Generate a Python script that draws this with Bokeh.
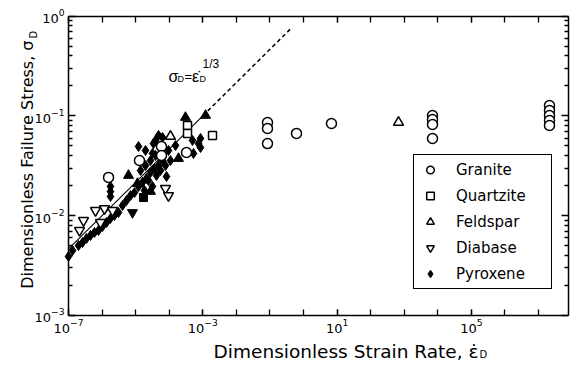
import numpy as np
from bokeh.plotting import figure
from bokeh.models import FixedTicker, Label, Legend, LegendItem, LogAxis, CustomJSTickFormatter, Range1d
from bokeh.embed import file_html
from bokeh.resources import INLINE

FONT = "DejaVu Sans"
FONT2 = "Liberation Sans"

# ---------------- data ----------------
granite_x = [1.56e-6, 1.30e-5, 5.89e-5, 5.89e-5, 3.27e-4,
             0.0847, 0.0847, 0.0847, 0.619, 6.82,
             6970, 6970, 6970, 6970,
             2.13e7, 2.13e7, 2.13e7, 2.13e7, 2.13e7]
granite_y = [0.0242, 0.0357, 0.0493, 0.0401, 0.0430,
             0.0859, 0.0748, 0.0528, 0.0667, 0.0839,
             0.101, 0.0920, 0.0820, 0.0594,
             0.127, 0.113, 0.101, 0.0899, 0.0802]

quartzite_x = [3.51e-4, 3.51e-4, 1.95e-3]
quartzite_y = [0.0802, 0.0667, 0.0637]

feldspar_x = [1.09e-4, 676]
feldspar_y = [0.0622, 0.0859]

diabase_x = [2.13e-7, 2.80e-7, 6.37e-7, 1.18e-6, 2.05e-6, 8.97e-7, 7.74e-5, 9.53e-5]
diabase_y = [0.00711, 0.00895, 0.01127, 0.0118, 0.01127, 0.00855, 0.01876, 0.0159]

pyroxene_x = [1.00e-7, 1.32e-7, 1.99e-7, 2.61e-7, 3.44e-7, 4.52e-7, 5.94e-7, 7.83e-7,
              1.03e-6, 1.36e-6, 1.78e-6, 2.34e-6, 3.08e-6, 4.06e-6, 5.35e-6, 7.03e-6,
              9.25e-6, 1.22e-5, 1.60e-5, 2.10e-5, 2.77e-5, 3.65e-5, 4.80e-5, 6.31e-5,
              1.40e-5, 1.97e-5, 2.77e-5, 3.91e-5, 2.42e-5, 4.18e-5, 5.50e-5, 7.74e-5,
              1.78e-6, 1.78e-6, 1.78e-6, 1.22e-5, 6.31e-5, 3.91e-5, 9.53e-5, 1.54e-4,
              4.94e-4, 7.45e-4, 8.55e-4, 8.30e-5, 3.18e-5, 1.84e-5,
              4.80e-5, 3.40e-5, 3.18e-5, 1.09e-4, 5.29e-4, 8.55e-4, 1.97e-5]
pyroxene_y = [0.00390, 0.00448, 0.00502, 0.00538, 0.00592, 0.00634, 0.00679, 0.00711,
              0.00780, 0.00855, 0.00938, 0.01005, 0.01076, 0.01265, 0.01419, 0.0159,
              0.01706, 0.01963, 0.02153, 0.0236, 0.0271, 0.0297, 0.0318, 0.0357,
              0.0284, 0.0318, 0.0357, 0.0401, 0.02254, 0.0253, 0.0284, 0.0318,
              0.01963, 0.01746, 0.01556, 0.0493, 0.0608, 0.0568, 0.0450, 0.0505,
              0.0568, 0.0528, 0.0594, 0.0247, 0.01963, 0.0179,
              0.0637, 0.0528, 0.0420, 0.0357, 0.0420, 0.0482, 0.0450]

# filled symbols (no legend entry)
feldspar_f_x = [3.05e-4, 1.21e-3, 1.89e-4, 6.12e-6, 1.135e-5, 2.77e-5]
feldspar_f_y = [0.0964, 0.101, 0.0374, 0.0253, 0.0210, 0.0175]
quartzite_f_x = [1.71e-5]
quartzite_f_y = [0.0152]
diabase_f_x = [8.05e-6]
diabase_f_y = [0.01076]

# model line sigma_D = edot_D^(1/3)
fit_solid_x = np.array([1e-7, 1e-3])
fit_dash_x = np.array([1e-3, 10 ** -0.4])

# axes extents and ticks
X_MIN, X_MAX = 1e-7, 10 ** 7.88
Y_MIN, Y_MAX = 1e-3, 1.0
x_major = [1e-7, 1e-3, 1e1, 1e5]
x_minor = [10.0 ** k for k in range(-7, 8)]
y_major = [1e-3, 1e-2, 1e-1, 1e0]
y_minor = [m * 10.0 ** k for k in range(-3, 0) for m in range(2, 10)]

W, H = 570, 366

# ---------------- figure ----------------
# The frame fills the whole canvas; the axes are pinned at the data box edges.
p = figure(x_axis_type="log", y_axis_type="log",
           x_range=Range1d(10 ** -9.0256, 10 ** 7.954),
           y_range=Range1d(10 ** -3.511, 10 ** 0.156),
           width=W, height=H,
           min_border_left=0, min_border_right=0, min_border_top=0, min_border_bottom=0,
           output_backend="svg", toolbar_location=None)
p.grid.visible = False
p.outline_line_color = None
p.background_fill_color = "white"
p.border_fill_color = "white"


def style_axis(ax, ticker, major_in, minor_in, loc, bounds, labels=True):
    ax.ticker = ticker
    ax.fixed_location = loc
    ax.bounds = bounds
    ax.axis_line_color = "black"
    ax.axis_line_width = 1.5
    ax.major_tick_line_color = "black"
    ax.minor_tick_line_color = "black"
    ax.major_tick_line_width = 1.3
    ax.minor_tick_line_width = 1.3
    ax.major_tick_in = major_in
    ax.major_tick_out = 0
    ax.minor_tick_in = minor_in
    ax.minor_tick_out = 0
    ax.axis_label = None
    ax.major_label_text_font = FONT
    ax.major_label_text_color = "black"
    ax.major_label_text_font_size = "13px"
    if labels:
        ax.major_label_standoff = 4
    else:
        ax.formatter = CustomJSTickFormatter(code="return ''")
        ax.major_label_standoff = 0


style_axis(p.xaxis[0], FixedTicker(ticks=x_major, minor_ticks=x_minor), 6, 6,
           Y_MIN, (X_MIN, X_MAX))
style_axis(p.yaxis[0], FixedTicker(ticks=y_major, minor_ticks=y_minor), 7, 4,
           X_MIN, (Y_MIN, Y_MAX))

top = LogAxis()
style_axis(top, FixedTicker(ticks=x_major, minor_ticks=x_minor), 6, 6,
           Y_MAX, (X_MIN, X_MAX), labels=False)
p.add_layout(top, "above")
right = LogAxis()
style_axis(right, FixedTicker(ticks=y_major, minor_ticks=y_minor), 7, 4,
           X_MAX, (Y_MIN, Y_MAX), labels=False)
p.add_layout(right, "right")

# model line
p.line(fit_solid_x, fit_solid_x ** (1 / 3), line_color="black", line_width=1.1)
p.line(fit_dash_x, fit_dash_x ** (1 / 3), line_color="black", line_width=1.5, line_dash="4 3")

# markers
r_py = p.scatter(pyroxene_x, pyroxene_y, marker="diamond", size=10,
                 fill_color="black", line_color="black", line_width=1)
p.scatter(feldspar_f_x, feldspar_f_y, marker="triangle", size=10,
          fill_color="black", line_color="black", line_width=1)
p.scatter(quartzite_f_x, quartzite_f_y, marker="square", size=8,
          fill_color="black", line_color="black", line_width=1)
p.scatter(diabase_f_x, diabase_f_y, marker="inverted_triangle", size=10,
          fill_color="black", line_color="black", line_width=1)

r_di = p.scatter(diabase_x, diabase_y, marker="inverted_triangle", size=10,
                 fill_color="white", line_color="black", line_width=1.5)
r_fe = p.scatter(feldspar_x, feldspar_y, marker="triangle", size=10,
                 fill_color="white", line_color="black", line_width=1.5)
r_qu = p.scatter(quartzite_x, quartzite_y, marker="square", size=8,
                 fill_color="white", line_color="black", line_width=1.5)
r_gr = p.scatter(granite_x, granite_y, marker="circle", size=10,
                 fill_color="white", line_color="black", line_width=1.5)

legend = Legend(items=[LegendItem(label="Granite", renderers=[r_gr]),
                       LegendItem(label="Quartzite", renderers=[r_qu]),
                       LegendItem(label="Feldspar", renderers=[r_fe]),
                       LegendItem(label="Diabase", renderers=[r_di]),
                       LegendItem(label="Pyroxene", renderers=[r_py])],
                location=(413, 77), orientation="vertical",
                padding=5, spacing=7, margin=0,
                glyph_width=22, glyph_height=19, label_height=19,
                label_standoff=15, label_width=90,
                label_text_font=FONT, label_text_font_size="15px",
                label_text_color="black",
                border_line_color="black", border_line_width=1.5, border_line_alpha=1.0,
                background_fill_color="white", background_fill_alpha=1.0)
p.add_layout(legend)


def lab(text, x, y, size, align="left", angle=0.0, font=FONT):
    # x, y: pixels from the picture's left / bottom edge
    p.add_layout(Label(x=x, y=y, x_units="screen", y_units="screen", text=text,
                       text_font=font, text_font_size=size, text_color="black",
                       text_align=align, text_baseline="alphabetic", angle=angle))


# axis titles
lab("Dimensionless Strain Rate, \u03b5\u0307", 478, 15, "18.5px", align="right")
lab("D", 479, 12, "10px")
lab("Dimensionless Failure Stress, \u03c3", 27, 326, "16px", align="right", angle=np.pi / 2)
lab("D", 33, 328, "10px", angle=np.pi / 2)

# annotation of the model line
lab("\u03c3", 168, 290, "16px", font=FONT2)
lab("D", 177, 288, "9px", font=FONT2)
lab("=", 184, 290, "13px", font=FONT2)
lab("\u03b5\u0307", 191.5, 290, "16px", font=FONT2)
lab("D", 199, 288, "9px", font=FONT2)
lab("1/3", 202, 303, "12px", font=FONT2)

open("out.html", "w").write(file_html(p, INLINE))
